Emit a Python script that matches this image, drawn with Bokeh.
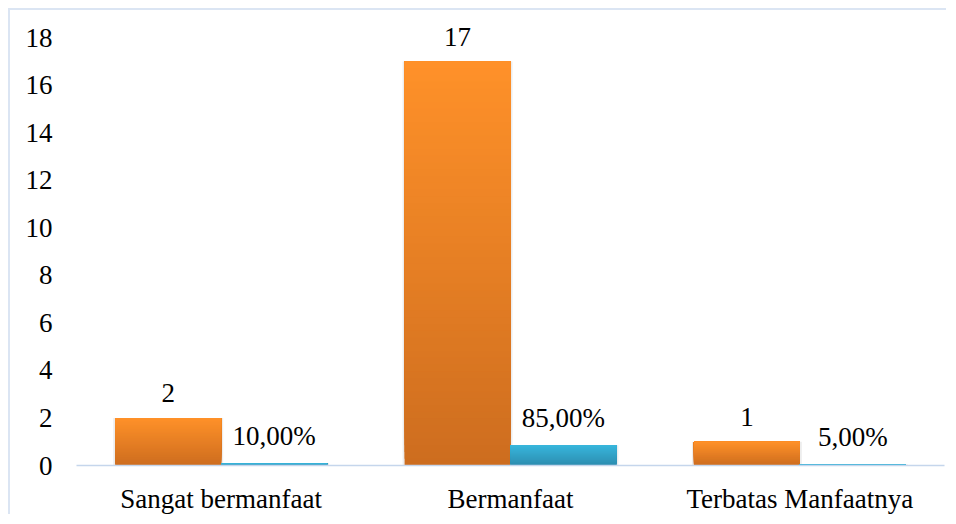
from bokeh.plotting import figure
from bokeh.models import ColumnDataSource, FixedTicker, Range1d, FactorRange
from bokeh.transform import dodge
from bokeh.embed import file_html
from bokeh.resources import INLINE
from bokeh.core.properties import value

categories = ["Sangat bermanfaat", "Bermanfaat", "Terbatas Manfaatnya"]
counts = [2, 17, 1]
percents = [0.10, 0.85, 0.05]
count_labels = ["2", "17", "1"]
percent_labels = ["10,00%", "85,00%", "5,00%"]
y_ticks = [0, 2, 4, 6, 8, 10, 12, 14, 16, 18]

FONT = "Liberation Serif"
FS = "27px"
BAR_W = 0.366
OFF = 0.183


def mix(c1, c2, t):
    a = [int(c1[i:i + 2], 16) for i in (1, 3, 5)]
    b = [int(c2[i:i + 2], 16) for i in (1, 3, 5)]
    return "#%02x%02x%02x" % tuple(round(a[k] + (b[k] - a[k]) * t) for k in range(3))


def gradient_source(vals, top_col, bot_col, n=60):
    # nested layers: each layer spans from its start up to the bar's value,
    # so later (lighter) layers cover earlier ones without seams
    xs, bots, tops, cols = [], [], [], []
    for i in range(n):
        for cat, v in zip(categories, vals):
            xs.append(cat)
            bots.append(v * i / n)
            tops.append(v)
            cols.append(mix(bot_col, top_col, (i + 0.5) / n))
    return ColumnDataSource(dict(x=xs, bottom=bots, top=tops, color=cols))


p = figure(
    x_range=FactorRange(*categories, range_padding=0),
    y_range=Range1d(0, 18.6),
    width=938, height=506,
    output_backend="svg", toolbar_location=None,
    min_border_left=66, min_border_right=4,
    min_border_top=13, min_border_bottom=51,
)
p.styles = {"margin-left": "8px", "margin-top": "8px",
            "border-top": "2px solid #dbe5f3", "border-left": "2px solid #dbe5f3"}

# faint shadows behind bars
shadow_src = ColumnDataSource(dict(cat=categories, counts=counts, percents=percents))
p.vbar(x=dodge("cat", -OFF, range=p.x_range), top="counts", bottom=-0.06, width=BAR_W + 0.014,
       source=shadow_src, fill_color="#000000", fill_alpha=0.07, line_color=None)
p.vbar(x=dodge("cat", OFF, range=p.x_range), top="percents", bottom=-0.06, width=BAR_W + 0.014,
       source=shadow_src, fill_color="#000000", fill_alpha=0.07, line_color=None)

orange_src = gradient_source(counts, "#ff9129", "#cd6d1f")
blue_src = gradient_source(percents, "#38b6dc", "#2d8caf")

p.vbar(x=dodge("x", -OFF, range=p.x_range), bottom="bottom", top="top", width=BAR_W,
       source=orange_src, fill_color="color", line_color=None)
p.vbar(x=dodge("x", OFF, range=p.x_range), bottom="bottom", top="top", width=BAR_W,
       source=blue_src, fill_color="color", line_color=None)

lab_src = ColumnDataSource(dict(cat=categories, counts=counts, percents=percents,
                                cl=count_labels, pl=percent_labels))
p.text(x=dodge("cat", -OFF, range=p.x_range), y="counts", text="cl", source=lab_src,
       text_font=value(FONT), text_font_size=FS, text_color="#000000",
       text_align="center", text_baseline="alphabetic", y_offset=-25)
p.text(x=dodge("cat", OFF, range=p.x_range), y="percents", text="pl", source=lab_src,
       text_font=value(FONT), text_font_size=FS, text_color="#000000",
       text_align="center", text_baseline="alphabetic", y_offset=-27)

p.xgrid.grid_line_color = None
p.ygrid.grid_line_color = None
p.outline_line_color = None

p.yaxis.ticker = FixedTicker(ticks=y_ticks)
p.yaxis.axis_line_color = None
p.yaxis.major_tick_line_color = None
p.yaxis.minor_tick_line_color = None
p.yaxis.major_label_standoff = 18
p.yaxis.major_label_text_font = FONT
p.yaxis.major_label_text_font_size = FS
p.yaxis.major_label_text_color = "#000000"

p.xaxis.axis_line_color = "#c5d6ec"
p.xaxis.axis_line_width = 1.5
p.xaxis.major_tick_line_color = None
p.xaxis.minor_tick_line_color = None
p.xaxis.major_label_standoff = 12
p.xaxis.major_label_text_font = FONT
p.xaxis.major_label_text_font_size = FS
p.xaxis.major_label_text_color = "#000000"

open("out.html", "w").write(file_html(p, INLINE))
